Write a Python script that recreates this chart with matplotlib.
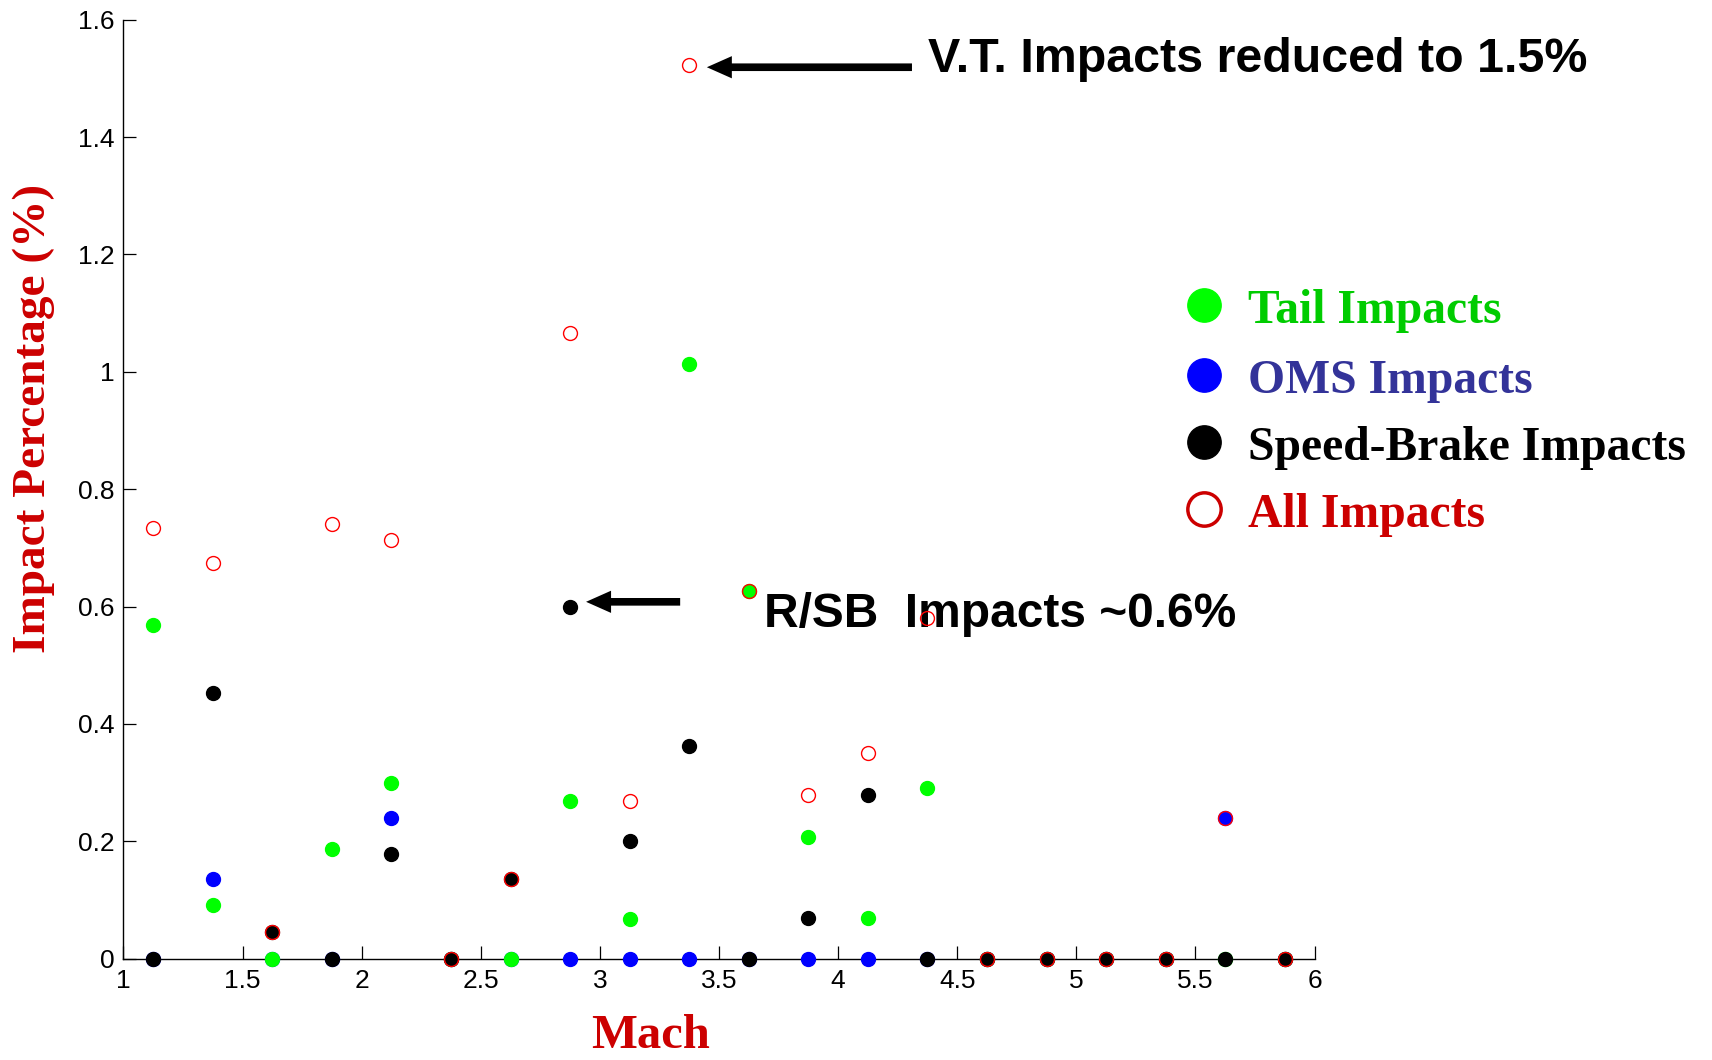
import matplotlib
matplotlib.use("Agg")
import matplotlib.pyplot as plt
from matplotlib.lines import Line2D

# ---- data ----
mach = [1.125, 1.375, 1.625, 1.875, 2.125, 2.375, 2.625, 2.875, 3.125, 3.375,
        3.625, 3.875, 4.125, 4.375, 4.625, 4.875, 5.125, 5.375, 5.625, 5.875]
tail = [0.569, 0.091, 0.0, 0.186, 0.300, 0.0, 0.0, 0.268, 0.067, 1.014,
        0.627, 0.208, 0.069, 0.290, 0.0, 0.0, 0.0, 0.0, 0.0, 0.0]
oms = [0.0, 0.136, 0.0, 0.0, 0.240, 0.0, 0.0, 0.0, 0.0, 0.0,
       0.0, 0.0, 0.0, 0.0, 0.0, 0.0, 0.0, 0.0, 0.240, 0.0]
speed_brake = [0.0, 0.452, 0.046, 0.0, 0.179, 0.0, 0.136, 0.599, 0.201, 0.363,
               0.0, 0.070, 0.279, 0.0, 0.0, 0.0, 0.0, 0.0, 0.0, 0.0]
all_impacts = [0.733, 0.675, 0.046, 0.740, 0.714, 0.0, 0.136, 1.066, 0.268, 1.522,
               0.627, 0.279, 0.350, 0.580, 0.0, 0.0, 0.0, 0.0, 0.240, 0.0]

xticks = [1, 1.5, 2, 2.5, 3, 3.5, 4, 4.5, 5, 5.5, 6]
xticklabels = ["1", "1.5", "2", "2.5", "3", "3.5", "4", "4.5", "5", "5.5", "6"]
yticks = [0, 0.2, 0.4, 0.6, 0.8, 1.0, 1.2, 1.4, 1.6]
yticklabels = ["0", "0.2", "0.4", "0.6", "0.8", "1", "1.2", "1.4", "1.6"]

legend_labels = ["Tail Impacts", "OMS Impacts", "Speed-Brake Impacts", "All Impacts"]

W, H = 1712, 1060
fig = plt.figure(figsize=(W / 100, H / 100), dpi=100)
fig.patch.set_facecolor("white")

ax = fig.add_axes([123.4 / W, 101.4 / H, (1314.6 - 123.4) / W, (958.6 - 19.7) / H])
ax.set_xlim(1, 6)
ax.set_ylim(0, 1.6)
ax.set_facecolor("none")

ms = 10
ax.plot(mach, oms, "o", ls="none", color="#0000FF", mec="#0000FF", ms=ms, clip_on=False, zorder=3)
ax.plot(mach, tail, "o", ls="none", color="#00FF00", mec="#00FF00", ms=ms, clip_on=False, zorder=4)
ax.plot(mach, speed_brake, "o", ls="none", color="black", mec="black", ms=ms, clip_on=False, zorder=5)
ax.plot(mach, all_impacts, "o", ls="none", mfc="none", mec="#FF0000", mew=1.0, ms=ms, clip_on=False, zorder=6)

for s in ["top", "right"]:
    ax.spines[s].set_visible(False)
for s in ["left", "bottom"]:
    ax.spines[s].set_linewidth(1.0)
    ax.spines[s].set_color("black")

ax.set_xticks(xticks)
ax.set_xticklabels(xticklabels)
ax.set_yticks(yticks)
ax.set_yticklabels(yticklabels)
ax.tick_params(axis="both", direction="in", length=9.5, width=0.9, labelsize=19,
               colors="black")
ax.tick_params(axis="x", pad=7.5)
ax.tick_params(axis="y", pad=6.5)
for lab in ax.get_xticklabels() + ax.get_yticklabels():
    lab.set_fontfamily("Liberation Sans")

# axis labels
fig.text(34 / W, 1 - 418 / H, "Impact Percentage (%)", rotation=90, ha="center", va="center",
         color="#CC0000", fontsize=34, fontweight="bold", family="Liberation Serif")
fig.text(651 / W, 12 / H, "Mach", ha="center", va="baseline",
         color="#CC0000", fontsize=35, fontweight="bold", family="Liberation Serif")

# annotations
ax.annotate("", xy=(3.449, 1.519), xytext=(4.31, 1.519),
            arrowprops=dict(arrowstyle="simple,head_length=1.8,head_width=1.6,tail_width=0.55",
                            color="black", lw=0, mutation_scale=10, shrinkA=0, shrinkB=0),
            annotation_clip=False)
ax.text(4.378, 1.511, "V.T. Impacts reduced to 1.5%", ha="left", va="baseline",
        fontsize=34.8, fontweight="bold", family="Liberation Sans", color="black")

ax.annotate("", xy=(2.942, 0.608), xytext=(3.337, 0.608),
            arrowprops=dict(arrowstyle="simple,head_length=1.8,head_width=1.6,tail_width=0.55",
                            color="black", lw=0, mutation_scale=10, shrinkA=0, shrinkB=0),
            annotation_clip=False)
ax.text(3.690, 0.565, "R/SB  Impacts ~0.6%", ha="left", va="baseline",
        fontsize=34.5, fontweight="bold", family="Liberation Sans", color="black", zorder=2)

# legend (manual)
leg_marker_y = [305, 375, 442, 509]
leg_text_y = [323, 393, 460, 527]
leg_text_colors = ["#00CC00", "#333399", "black", "#CC0000"]
leg_marker_styles = [
    dict(mfc="#00FF00", mec="#00FF00", mew=1),
    dict(mfc="#0000FF", mec="#0000FF", mew=1),
    dict(mfc="black", mec="black", mew=1),
    dict(mfc="none", mec="#CC0000", mew=2.5),
]
for lab, my, ty, tc, mst in zip(legend_labels, leg_marker_y, leg_text_y, leg_text_colors, leg_marker_styles):
    fig.add_artist(Line2D([1204 / W], [1 - my / H], transform=fig.transFigure, marker="o",
                          ls="none", ms=24, **mst))
    fig.text(1248 / W, 1 - ty / H, lab, ha="left", va="baseline", color=tc,
             fontsize=34.3, fontweight="bold", family="Liberation Serif")

fig.savefig("out.png", dpi=100, facecolor="white")
